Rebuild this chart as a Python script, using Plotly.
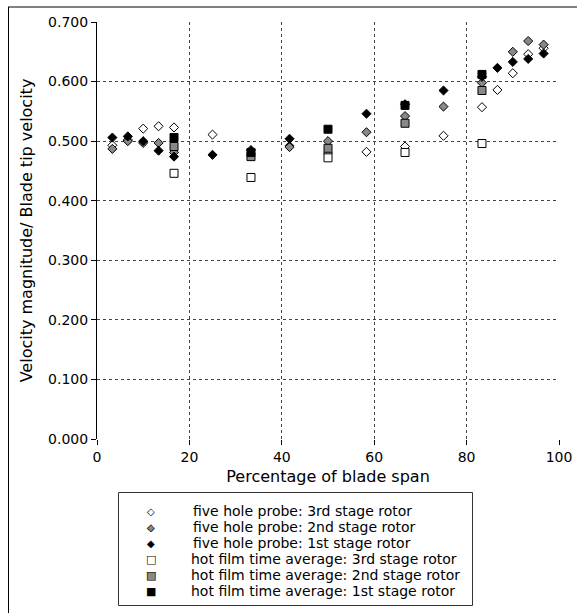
import plotly.graph_objects as go

# Five hole probe positions (% blade span)
fhp_x_3rd = [3.33, 6.67, 10.0, 13.33, 16.67, 25.0, 41.67, 50.0, 58.33, 66.67, 75.0, 83.33, 86.67, 90.0, 93.33, 96.67]
fhp_y_3rd = [0.493, 0.502, 0.521, 0.525, 0.523, 0.511, 0.492, 0.480, 0.482, 0.491, 0.509, 0.557, 0.586, 0.614, 0.646, 0.656]

fhp_x_2nd = [3.33, 6.67, 10.0, 13.33, 16.67, 41.67, 50.0, 58.33, 66.67, 75.0, 83.33, 90.0, 93.33, 96.67]
fhp_y_2nd = [0.487, 0.500, 0.497, 0.497, 0.481, 0.490, 0.500, 0.515, 0.542, 0.558, 0.598, 0.650, 0.668, 0.662]

fhp_x_1st = [3.33, 6.67, 10.0, 13.33, 16.67, 25.0, 33.33, 41.67, 58.33, 66.67, 75.0, 83.33, 86.67, 90.0, 93.33, 96.67]
fhp_y_1st = [0.506, 0.508, 0.500, 0.484, 0.474, 0.477, 0.485, 0.504, 0.546, 0.562, 0.585, 0.608, 0.623, 0.633, 0.638, 0.647]

# Hot film time average
hf_x = [16.67, 33.33, 50.0, 66.67, 83.33]
hf_y_3rd = [0.446, 0.439, 0.472, 0.481, 0.496]
hf_y_2nd = [0.491, 0.474, 0.488, 0.530, 0.585]
hf_y_1st = [0.506, 0.481, 0.520, 0.560, 0.612]

series_names = [
    "five hole probe: 3rd stage rotor",
    "five hole probe: 2nd stage rotor",
    "five hole probe: 1st stage rotor",
    "hot film time average: 3rd stage rotor",
    "hot film time average: 2nd stage rotor",
    "hot film time average: 1st stage rotor",
]

x_ticks = [0, 20, 40, 60, 80, 100]
y_ticks = [0.0, 0.1, 0.2, 0.3, 0.4, 0.5, 0.6, 0.7]
y_tick_labels = ["0.000", "0.100", "0.200", "0.300", "0.400", "0.500", "0.600", "0.700"]

FONT = "DejaVu Sans"
GRAY = "#888888"

fig = go.Figure()

series = [
    (fhp_x_3rd, fhp_y_3rd, "diamond", "white"),
    (fhp_x_2nd, fhp_y_2nd, "diamond", GRAY),
    (fhp_x_1st, fhp_y_1st, "diamond", "black"),
    (hf_x, hf_y_3rd, "square", "white"),
    (hf_x, hf_y_2nd, "square", GRAY),
    (hf_x, hf_y_1st, "square", "black"),
]

for (x, y, sym, fill), name in zip(series, series_names):
    fig.add_trace(go.Scatter(
        x=x, y=y, mode="markers", name=name, showlegend=False,
        marker=dict(symbol=sym, color=fill, size=7 if sym == "diamond" else 8,
                    line=dict(color="black", width=1)),
    ))

# plot area pixel geometry (page pixels; body margin removed below)
OFF = 0
W, H = 577, 613
L, T = 97 - OFF, 22 - OFF
R = W - (559 - OFF)
B = H - (439 - OFF)
pw = W - L - R
ph = H - T - B

def px(x_page):
    return (x_page - OFF - L) / pw

def py(y_page):
    return (H - B - (y_page - OFF)) / ph

# manual legend (text annotations)
annotations = []
row0, dy = 511, 16
sym_x, txt_x = 151, 189
glyphs = {"diamond": ("\u25C6", "\u25C7"), "square": ("\u25A0", "\u25A1")}
for i, ((_, _, sym, fill), name) in enumerate(zip(series, series_names)):
    yc = py(row0 + i * dy)
    filled, outline = glyphs[sym]
    gsize = 10 if sym == "diamond" else 11
    if fill != "white":
        annotations.append(dict(text=filled, x=px(sym_x), y=yc, xref="paper", yref="paper",
                                xanchor="center", yanchor="middle", showarrow=False,
                                font=dict(family=FONT, size=gsize, color=fill)))
    if fill != "black":
        annotations.append(dict(text=outline, x=px(sym_x), y=yc, xref="paper", yref="paper",
                                xanchor="center", yanchor="middle", showarrow=False,
                                font=dict(family=FONT, size=gsize, color="black")))
    annotations.append(dict(text=name, x=px(txt_x if sym == "square" else txt_x + 2), y=yc,
                            xref="paper", yref="paper", xanchor="left", yanchor="middle",
                            showarrow=False, font=dict(family=FONT, size=14, color="black")))

fig.update_layout(
    width=W, height=H,
    margin=dict(l=L, r=R, t=T, b=B, autoexpand=False),
    paper_bgcolor="white", plot_bgcolor="white",
    font=dict(family=FONT, size=14, color="black"),
    showlegend=False,
    xaxis=dict(
        range=[0, 100], tickvals=x_ticks, ticktext=[str(v) for v in x_ticks],
        showgrid=True, gridcolor="#444444", griddash="dot", gridwidth=1,
        zeroline=False, showline=False, automargin=False,
        ticks="outside", ticklen=5, tickcolor="black",
        title=dict(text="Percentage of blade span", font=dict(family=FONT, size=16), standoff=7),
    ),
    yaxis=dict(
        range=[0, 0.7], tickvals=y_ticks, ticktext=y_tick_labels,
        showgrid=True, gridcolor="#444444", griddash="dot", gridwidth=1,
        zeroline=False, showline=True, linecolor="black", linewidth=1, automargin=False,
        ticks="outside", ticklen=5, tickcolor="black",
        title=dict(text="Velocity magnitude/ Blade tip velocity", font=dict(family=FONT, size=16), standoff=11),
    ),
    annotations=annotations,
    shapes=[
        dict(type="rect", xref="paper", yref="paper", x0=px(118.5), x1=px(472.5), y0=py(492.5), y1=py(605.5),
             line=dict(color="#333333", width=1), fillcolor="white", layer="below"),
        dict(type="line", xref="paper", yref="paper", x0=px(8), x1=px(577), y0=py(7), y1=py(7),
             line=dict(color="#808080", width=2), layer="above"),
        dict(type="line", xref="paper", yref="paper", x0=px(8.5), x1=px(8.5), y0=py(7), y1=py(613),
             line=dict(color="black", width=1), layer="above"),
    ],
)

fig.write_html(
    "out.html",
    config={"displayModeBar": False},
    post_script="document.body.style.margin='0';document.body.style.overflow='hidden';",
)
